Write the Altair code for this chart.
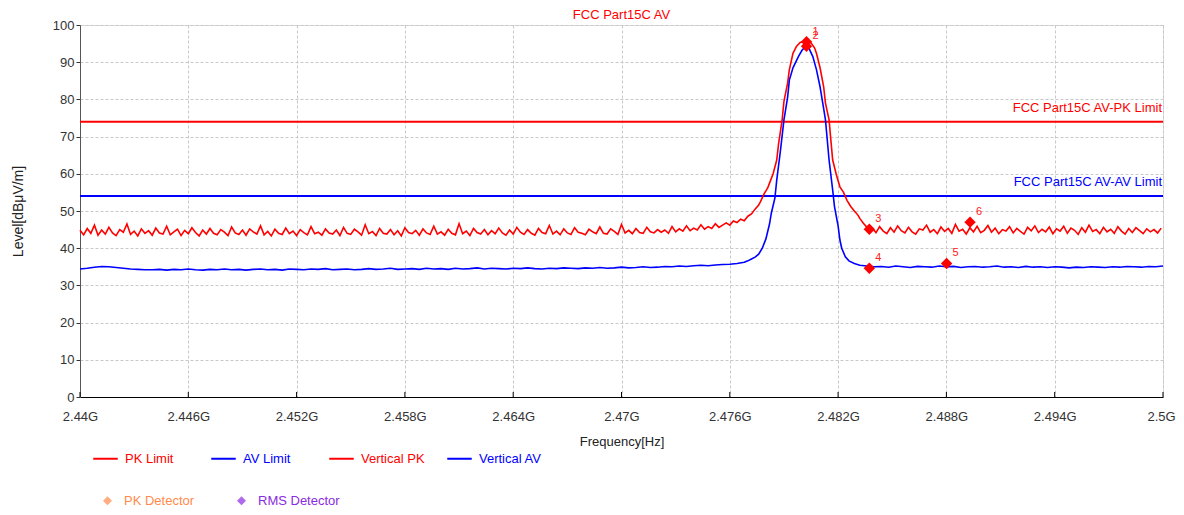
import altair as alt
import pandas as pd

FONT = "Liberation Sans"

TITLE = "FCC Part15C AV"
X_TITLE = "Frequency[Hz]"
Y_TITLE = "Level[dBμV/m]"

x_ticks = [2.44, 2.446, 2.452, 2.458, 2.464, 2.47, 2.476, 2.482, 2.488, 2.494, 2.5]
y_ticks = [0, 10, 20, 30, 40, 50, 60, 70, 80, 90, 100]

series_names = ["PK Limit", "AV Limit", "Vertical PK", "Vertical AV"]
series_colors = ["#ff0000", "#0000ff", "#ff0000", "#0000ff"]

limit_names = ["PK Limit", "AV Limit"]
limit_levels = [74.0, 54.0]
limit_labels = ["FCC Part15C AV-PK Limit", "FCC Part15C AV-AV Limit"]
limit_label_colors = ["#ff0000", "#0000ff"]

# Vertical PK trace (GHz, dBuV/m)
pk_left_start = 2.4400
pk_step = 0.0002
pk_left = [
    44.8, 43.6, 45.3, 44.0, 46.2, 43.5, 44.9, 43.8, 45.6, 44.1, 43.4, 45.0, 44.3, 46.5, 43.7, 44.6, 43.3, 45.2, 44.0, 44.7,
    43.5, 45.4, 44.1, 43.8, 45.9, 43.6, 44.4, 45.1, 43.4, 44.8, 43.9, 45.5, 44.2, 43.3, 44.9, 43.8, 45.3, 44.0, 43.6, 45.0,
    44.3, 43.4, 45.7, 44.1, 43.7, 44.9, 43.5, 45.2, 44.4, 43.8, 46.0, 43.6, 44.5, 43.3, 45.1, 44.0, 43.7, 45.4, 43.9, 44.6,
    43.4, 45.0, 44.2, 43.6, 45.8, 43.9, 44.3, 43.5, 45.2, 44.1, 43.8, 44.9, 43.4, 45.6, 44.0, 43.7, 45.1, 44.4, 43.5, 46.3,
    43.9, 44.5, 43.4, 45.3, 44.0, 43.8, 45.0, 43.6, 44.7, 43.3, 45.5, 44.2, 43.9, 44.8, 43.5, 45.2, 44.1, 43.7, 45.9, 43.8,
    44.4, 43.5, 45.1, 44.0, 43.6, 46.6, 43.9, 44.6, 43.4, 45.3, 44.2, 43.8, 45.0, 43.6, 44.7, 43.9, 45.4, 44.1, 43.5, 44.9,
    43.8, 45.6, 44.3, 43.7, 45.0, 44.0, 43.5, 45.3, 44.2, 43.9, 46.1, 43.8, 44.6, 43.6, 45.2, 44.1, 43.7, 45.5, 44.3, 44.0,
    43.6, 45.1, 44.4, 43.9, 45.7, 44.0, 43.8, 45.2, 44.5, 43.7, 46.4, 44.1, 44.8, 43.9, 45.3, 44.2, 44.0, 45.6, 44.4, 44.1,
    45.0, 44.3, 44.9, 44.0, 45.8, 44.4, 45.2, 44.6, 46.0, 44.7, 45.4, 44.9, 46.3, 45.1, 45.8, 45.3, 46.6, 45.6, 46.2,
]
pk_peak_freq = [
    2.4758, 2.4760, 2.4762, 2.4764, 2.4766, 2.4768, 2.4770, 2.4772, 2.4774, 2.4776,
    2.4777, 2.4779, 2.4781, 2.4782, 2.4784, 2.4786, 2.4787, 2.4789, 2.4790, 2.4792,
    2.4793, 2.4795, 2.4797, 2.4799, 2.4802, 2.4805, 2.4807, 2.4808, 2.4810, 2.4812,
    2.4813, 2.4815, 2.4816, 2.4817, 2.4819, 2.4821, 2.4823, 2.4825, 2.4827, 2.4829,
    2.4831, 2.4832, 2.4834, 2.4836, 2.4837,
]
pk_peak_level = [
    46.8, 46.2, 47.3, 46.9, 47.8, 47.4, 48.6, 49.2, 50.5, 51.6,
    52.5, 54.6, 56.2, 57.5, 60.0, 63.7, 68.0, 74.5, 79.5, 84.3,
    88.0, 92.4, 94.3, 95.3, 95.7, 95.2, 93.8, 92.4, 88.5, 83.4,
    79.0, 74.5, 69.0, 63.7, 59.8, 56.5, 55.0, 52.8, 51.2, 50.0,
    48.9, 48.0, 46.7, 45.6, 45.0,
]
pk_right_start = 2.4839
pk_right = [
    45.3, 44.2, 45.8, 44.6, 43.9, 45.5, 44.3, 46.0, 44.7, 44.1,
    45.6, 44.4, 43.8, 45.2, 44.9, 46.2, 44.3, 45.0, 43.9, 45.7,
    44.5, 45.3, 44.0, 46.4, 44.6, 45.1, 43.8, 45.5, 44.4, 45.9,
    44.2, 44.8, 46.1, 44.3, 45.4, 43.9, 45.0, 44.6, 45.8, 44.1,
    45.3, 44.5, 43.8, 45.6, 44.7, 46.0, 44.2, 45.1, 44.4, 45.7,
    43.9, 45.2, 44.6, 45.9, 44.0, 45.4, 44.8, 43.7, 45.5, 44.3,
    46.2, 44.5, 45.0, 43.9, 45.6, 44.4, 45.1, 44.0, 45.8, 44.6,
    43.8, 45.3, 44.2, 45.5, 44.7, 43.9, 45.2, 44.4, 45.0, 44.1,
    45.4,
]

# Vertical AV trace
av_left_start = 2.4400
av_step = 0.0004
av_left = [
    34.4, 34.6, 34.9, 35.1, 35.0, 34.8, 34.6, 34.4, 34.3, 34.2,
    34.2, 34.3, 34.1, 34.3, 34.2, 34.4, 34.2, 34.1, 34.3, 34.2,
    34.4, 34.2, 34.3, 34.1, 34.3, 34.4, 34.2, 34.3, 34.1, 34.4,
    34.3, 34.2, 34.4, 34.3, 34.5, 34.2, 34.3, 34.4, 34.2, 34.3,
    34.5, 34.3, 34.4, 34.6, 34.3, 34.4, 34.5, 34.3, 34.6, 34.4,
    34.5, 34.3, 34.6, 34.4, 34.5, 34.7, 34.4, 34.6, 34.5, 34.4,
    34.6, 34.5, 34.7, 34.5, 34.4, 34.6, 34.5, 34.7, 34.6, 34.5,
    34.7, 34.6, 34.8, 34.6, 34.7, 34.9, 34.7, 34.8, 35.0, 34.8,
    34.9, 35.1, 35.0, 35.2, 35.1, 35.3, 35.4, 35.3, 35.5, 35.6,
    35.7, 35.9, 36.2,
]
av_peak_freq = [
    2.4770, 2.4772, 2.4774, 2.4776, 2.4778, 2.4780, 2.4782, 2.4783, 2.4785, 2.4786,
    2.4788, 2.4790, 2.4792, 2.4793, 2.4795, 2.4798, 2.4800, 2.4802, 2.4804, 2.4806,
    2.4808, 2.4810, 2.4812, 2.4813, 2.4815, 2.4817, 2.4818, 2.4820, 2.4821, 2.4822,
    2.4824, 2.4826, 2.4829, 2.4832,
]
av_peak_level = [
    36.6, 37.1, 37.6, 38.4, 40.0, 42.5, 46.5, 49.4, 53.5, 58.3,
    66.0, 74.5, 80.5, 85.2, 88.5, 91.5, 93.2, 94.2, 93.6, 91.5,
    88.0, 83.4, 77.5, 74.5, 63.7, 55.6, 51.2, 46.0, 42.2, 40.0,
    37.7, 36.6, 35.9, 35.4,
]
av_right_start = 2.4836
av_right = [
    35.2, 35.0, 35.1, 34.9, 35.2, 35.0, 34.8, 35.1, 35.0, 34.9,
    35.2, 35.0, 35.1, 34.8, 35.0, 35.1, 34.9, 35.0, 35.2, 34.9,
    35.0, 34.8, 35.1, 34.9, 35.0, 34.8, 35.0, 34.9, 34.7, 34.9,
    34.8, 35.0, 34.9, 34.8, 35.0, 34.9, 35.1, 35.0, 34.9, 35.1,
    35.0, 35.2,
]

marker_ids = ["1", "2", "3", "4", "5", "6"]
marker_freq = [2.48025, 2.48025, 2.48373, 2.48373, 2.48801, 2.48931]
marker_level = [95.5, 94.3, 45.1, 34.6, 35.9, 47.0]

detector_names = ["PK Detector", "RMS Detector"]
detector_colors = ["#ff8a4c", "#8a2be2"]

# ---------------------------------------------------------------- data frames
def sweep(start, step, values):
    return [round(start + i * step, 5) for i in range(len(values))]

rows = []
for f, v in zip(sweep(pk_left_start, pk_step, pk_left) + pk_peak_freq + sweep(pk_right_start, pk_step, pk_right),
                pk_left + pk_peak_level + pk_right):
    rows.append({"series": "Vertical PK", "freq": f, "level": v})
for f, v in zip(sweep(av_left_start, av_step, av_left) + av_peak_freq + sweep(av_right_start, av_step, av_right),
                av_left + av_peak_level + av_right):
    rows.append({"series": "Vertical AV", "freq": f, "level": v})
trace_df = pd.DataFrame(rows)

limit_df = pd.DataFrame({
    "series": limit_names,
    "level": limit_levels,
    "label": limit_labels,
    "tcolor": limit_label_colors,
    "xend": [x_ticks[-1]] * len(limit_names),
})
marker_df = pd.DataFrame({"id": marker_ids, "freq": marker_freq, "level": marker_level})
det_df = pd.DataFrame({"det": detector_names, "freq": [x_ticks[0]] * 2, "level": [0.0, 0.0]})
tick_df = pd.DataFrame({"t": x_ticks})

W, H = 1083, 372

xscale = alt.Scale(domain=[x_ticks[0], x_ticks[-1]], nice=False, zero=False)
yscale = alt.Scale(domain=[y_ticks[0], y_ticks[-1]], nice=False, zero=False)
cscale = alt.Scale(domain=series_names, range=series_colors)
fscale = alt.Scale(domain=detector_names, range=detector_colors)

grid_kw = dict(grid=True, gridColor="#c8c8c8", gridDash=[3, 2], gridWidth=1)

x_axis = alt.Axis(
    values=x_ticks, tickCount=40, labelExpr="format(datum.value, '~g') + 'G'", title=X_TITLE,
    ticks=False, labelPadding=13, titlePadding=12, labelFlush=False, labelOverlap=False,
    labelOffset=alt.ExprRef(expr="datum.value >= 2.5 ? -2 : 0"),
    labelFont=FONT, labelFontSize=13, labelColor="#333333",
    titleFont=FONT, titleFontSize=13, titleColor="#222222", titleFontWeight="normal",
    domainColor="#000000", domainWidth=1, **grid_kw,
)
y_axis = alt.Axis(
    values=y_ticks, tickCount=40, title=Y_TITLE, tickSize=4, tickColor="#333333", labelPadding=2,
    titlePadding=27, labelFont=FONT, labelFontSize=13, labelColor="#333333",
    titleFont=FONT, titleFontSize=14, titleColor="#222222", titleFontWeight="normal",
    domainColor="#555555", domainWidth=1, labelFlush=False, labelOverlap=False, **grid_kw,
)

legend_lines = alt.Legend(
    title=None, orient="none", legendX=12, legendY=420, direction="horizontal",
    columns=4, gridAlign="all",
    symbolType="stroke", symbolSize=600, symbolStrokeWidth=2, labelFont=FONT, labelFontSize=13,
    labelOffset=6, columnPadding=18, padding=0,
    labelColor=alt.ExprRef(expr="indexof(['PK Limit','Vertical PK'], datum.value) >= 0 ? '#ff0000' : '#0000ff'"),
)
legend_det = alt.Legend(
    title=None, orient="none", legendX=21, legendY=469, direction="horizontal",
    symbolType="diamond", symbolSize=80, symbolStrokeWidth=0, labelFont=FONT, labelFontSize=13,
    labelOffset=10, columnPadding=40, padding=0,
    labelColor=alt.ExprRef(expr="datum.value == 'PK Detector' ? '#ff8a4c' : '#8a2be2'"),
)

X = alt.X("freq:Q", scale=xscale, axis=x_axis)
Y = alt.Y("level:Q", scale=yscale, axis=y_axis)

limits = alt.Chart(limit_df).mark_rule(strokeWidth=2).encode(
    y=Y, color=alt.Color("series:N", scale=cscale, legend=legend_lines)
)
traces = alt.Chart(trace_df).mark_line(strokeWidth=1.6).encode(
    x=X, y=Y, color=alt.Color("series:N", scale=cscale, legend=legend_lines)
)
limit_text = alt.Chart(limit_df).mark_text(
    align="right", baseline="middle", dx=-1, dy=-14, font=FONT, fontSize=13
).encode(
    x=alt.X("xend:Q", scale=xscale, axis=x_axis), y=alt.Y("level:Q", scale=yscale, axis=y_axis),
    text="label:N", color=alt.Color("tcolor:N", scale=None),
)
markers = alt.Chart(marker_df).mark_point(
    shape="diamond", filled=True, size=130, opacity=1, color="#ff0000"
).encode(x=X, y=Y)
marker_text = alt.Chart(marker_df).mark_text(
    align="left", baseline="middle", dx=6, dy=-10, font=FONT, fontSize=11, color="#ff2020"
).encode(x=X, y=Y, text="id:N")
det_legend_layer = alt.Chart(det_df).transform_filter("false").mark_point(
    shape="diamond", filled=True
).encode(
    x=X, y=Y,
    fill=alt.Fill("det:N", scale=fscale, legend=legend_det),
)
x_inner_ticks = alt.Chart(tick_df).mark_rule(color="#000000", strokeWidth=1).encode(
    x=alt.X("t:Q", scale=xscale, axis=x_axis), y=alt.value(H), y2=alt.value(H - 5)
)

chart = alt.layer(
    limits, traces, limit_text, markers, marker_text, det_legend_layer, x_inner_ticks
).properties(
    width=W, height=H,
    title=alt.TitleParams(text=TITLE, color="#ff0000", font=FONT, fontSize=13,
                          fontWeight="normal", anchor="middle", offset=2, dy=5),
    autosize=alt.AutoSizeParams(type="none"),
    padding={"left": 72, "top": 17, "right": 13, "bottom": 110},
).configure_view(stroke=None).configure(background="white")

chart.save("out.html", embed_options={"renderer": "svg", "actions": False})
